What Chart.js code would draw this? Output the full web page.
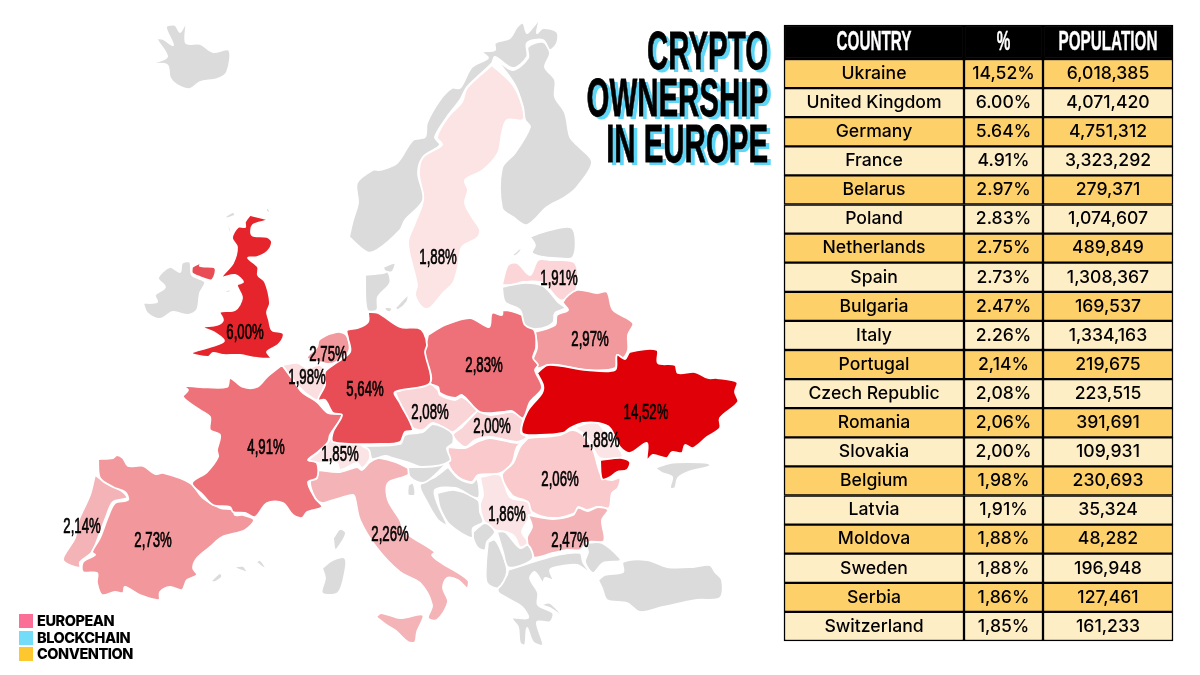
<!DOCTYPE html>
<html>
<head>
<meta charset="utf-8">
<title>Crypto ownership in Europe</title>
<script src="https://cdn.jsdelivr.net/npm/chart.js@4/dist/chart.umd.min.js"></script>
<style>
    html, body { margin: 0; padding: 0; background: #fff; }
    #page { position: relative; width: 1200px; height: 675px; overflow: hidden; }
    canvas { position: absolute; }
    #title {
        position: absolute; right: 432px; top: 27px; text-align: right;
        font: 700 54px/46.5px "Liberation Sans", sans-serif; color: #000;
        -webkit-text-stroke: 0.8px #000;
        text-shadow: 7px 3px 0 #5ed6f8;
        transform: scaleX(0.545); transform-origin: right top; white-space: nowrap;
    }
    #brand { position: absolute; left: 19px; top: 613px; }
    #brand div { position: relative; height: 16.5px; padding-left: 18px; font: 800 14.5px/16px Inter, sans-serif; letter-spacing: -0.45px; color: #000; }
    #brand i { position: absolute; left: 0; top: 1px; width: 14px; height: 14px; }
</style>
</head>
<body>
<div id="page">
    <canvas id="map" width="1200" height="675" style="left:0;top:0"></canvas>
    <canvas id="tableHead" width="393" height="38" style="left:782px;top:23px"></canvas>
    <canvas id="tableBody" width="393" height="586" style="left:782px;top:57px"></canvas>
    <div id="title">CRYPTO<br>OWNERSHIP<br>IN EUROPE</div>
    <div id="brand"></div>
</div>
<script>
// Table
const headers = ['COUNTRY', '%', 'POPULATION'];
const countries = ['Ukraine', 'United Kingdom', 'Germany', 'France', 'Belarus', 'Poland', 'Netherlands', 'Spain', 'Bulgaria', 'Italy', 'Portugal', 'Czech Republic', 'Romania', 'Slovakia', 'Belgium', 'Latvia', 'Moldova', 'Sweden', 'Serbia', 'Switzerland'];
const percents = ['14,52%', '6.00%', '5.64%', '4.91%', '2.97%', '2.83%', '2.75%', '2.73%', '2.47%', '2.26%', '2,14%', '2,08%', '2,06%', '2,00%', '1,98%', '1,91%', '1,88%', '1,88%', '1,86%', '1,85%'];
const populations = ['6,018,385', '4,071,420', '4,751,312', '3,323,292', '279,371', '1,074,607', '489,849', '1,308,367', '169,537', '1,334,163', '219,675', '223,515', '391,691', '109,931', '230,693', '35,324', '48,282', '196,948', '127,461', '161,233'];
const columnWidths = [180, 79, 130];

// Map labels
const mapLabels = ['6,00%', '2,75%', '1,98%', '5,64%', '4,91%', '2,14%', '2,73%', '1,85%', '2,26%', '2,83%', '2,08%', '2,00%', '14,52%', '1,88%', '2,06%', '1,86%', '2,47%', '1,88%', '1,91%', '2,97%'];
const mapLabelX = [245, 328, 307, 365, 266, 82, 153, 340, 390, 484, 430, 492, 646, 601, 560, 507, 570, 438, 559, 590];
const mapLabelY = [333, 355, 378, 390, 448, 527, 541, 455, 535, 366, 413, 427, 413, 441, 480, 515, 541, 258, 279, 340];

// Outlines, x,y pairs in map units
const ukraine = [537,373, 548,365, 587,370, 615,370, 617,355, 625,359, 630,352, 657,350, 658,363, 675,365, 678,373, 695,372, 708,378, 717,378, 737,382, 735,392, 738,402, 720,418, 720,428, 707,437, 693,448, 685,445, 682,453, 672,452, 667,458, 653,455, 647,460, 647,443, 630,453, 620,447, 610,428, 598,423, 583,423, 570,428, 563,433, 540,435, 522,433, 527,412, 542,393, 543,385];
const odessa = [600,460, 622,458, 630,462, 627,470, 617,472, 610,477, 602,479];
const greatBritain = [250,215, 267,220, 253,225, 252,235, 267,237, 272,242, 267,252, 257,257, 248,258, 258,267, 258,275, 265,282, 270,303, 267,312, 269,320, 272,330, 283,333, 283,338, 278,345, 267,352, 271,358, 257,358, 240,355, 223,355, 213,353, 208,357, 192,353, 210,347, 224,341, 215,333, 203,327, 217,325, 223,320, 220,312, 235,310, 242,298, 237,285, 243,282, 235,275, 222,277, 233,263, 237,247, 232,238, 238,227, 245,227, 245,222];
const northernIreland = [192,267, 202,262, 200,266, 215,268, 212,280, 200,277, 192,273];
const germany = [368,312, 378,313, 400,327, 418,328, 424,333, 427,345, 425,352, 430,383, 395,392, 400,403, 413,430, 405,432, 400,442, 380,444, 333,442, 333,432, 342,415, 333,413, 325,400, 318,400, 325,385, 325,372, 333,365, 350,352, 348,338, 347,330, 358,328, 368,322];
const france = [282,365, 293,380, 302,392, 317,402, 328,413, 342,415, 330,435, 328,442, 318,452, 308,460, 317,463, 317,478, 308,482, 315,498, 322,507, 307,512, 302,518, 293,515, 283,503, 267,503, 255,517, 245,513, 233,512, 230,507, 213,505, 203,495, 192,483, 207,472, 218,457, 217,450, 220,435, 210,430, 210,417, 200,410, 183,397, 188,390, 183,386, 200,387, 227,387, 230,378, 243,387, 257,387, 267,377];
const belarus = [535,332, 555,325, 557,315, 568,310, 563,302, 577,290, 597,293, 607,292, 613,310, 633,323, 628,335, 628,350, 623,358, 617,355, 615,368, 587,370, 557,365, 548,365, 538,368, 533,360, 537,348];
const poland = [428,335, 425,352, 430,383, 438,387, 440,393, 455,398, 462,395, 480,412, 503,412, 512,411, 523,418, 530,402, 542,388, 535,370, 538,365, 533,358, 536,348, 535,332, 527,322, 522,315, 503,310, 502,315, 492,313, 489,327, 470,318, 445,325];
const netherlands = [329,334, 340,332, 347,336, 349,351, 336,362, 328,364, 320,362, 307,358, 317,347, 319,340];
const spain = [98,459, 113,458, 117,455, 123,458, 128,466, 143,466, 155,474, 163,473, 190,483, 203,498, 220,508, 233,510, 235,515, 243,515, 254,520, 245,530, 222,537, 210,547, 197,558, 193,568, 197,575, 187,580, 182,590, 170,587, 160,592, 159,600, 140,595, 125,587, 123,593, 115,592, 102,595, 97,583, 97,573, 83,572, 83,562, 95,555, 92,552, 100,538, 108,517, 115,503, 128,500, 125,492, 113,487, 100,478];
const bulgaria = [528,515, 553,519, 573,515, 578,508, 588,511, 598,507, 608,510, 602,520, 604,541, 588,542, 580,550, 567,550, 553,553, 533,557, 527,538, 532,527];
const italy = [317,470, 340,472, 357,467, 362,470, 370,462, 380,458, 408,468, 408,475, 388,483, 388,500, 400,520, 405,532, 435,552, 432,555, 440,562, 468,580, 467,588, 458,580, 447,578, 443,588, 448,602, 437,620, 428,618, 432,605, 420,583, 400,572, 377,548, 360,520, 355,498, 353,495, 333,500, 322,503, 315,498, 310,480];
const sicily = [376,617, 381,613, 400,618, 423,615, 417,632, 415,642, 408,642, 396,631, 385,624];
const portugal = [95,475, 107,483, 123,492, 127,498, 113,502, 106,517, 98,538, 92,552, 80,562, 80,568, 63,560, 75,538, 78,522, 90,495];
const czechia = [395,392, 430,384, 438,390, 440,395, 455,400, 462,397, 477,410, 473,415, 460,427, 452,432, 433,423, 423,430, 412,427, 402,408];
const romania = [528,438, 560,435, 572,430, 583,435, 593,450, 602,477, 612,480, 620,478, 618,488, 612,493, 609,508, 597,507, 587,510, 578,507, 575,513, 553,518, 532,512, 528,502, 512,495, 502,475, 513,463, 520,447];
const hungary = [448,447, 465,448, 477,442, 490,438, 517,443, 527,438, 517,447, 512,463, 500,473, 478,475, 472,482, 458,477, 448,463];
const slovakia = [477,411, 490,415, 503,413, 512,412, 523,420, 521,433, 527,437, 517,442, 490,437, 475,440, 465,447, 453,435, 462,427];
const belgium = [282,365, 298,363, 307,368, 320,365, 325,372, 325,385, 318,400, 308,395, 302,390, 293,380];
const latvia = [502,285, 508,265, 517,263, 530,275, 538,260, 550,260, 575,263, 575,293, 560,300, 543,283, 523,282, 513,285];
const moldova = [575,428, 587,423, 598,423, 607,435, 620,450, 622,457, 600,458, 593,448, 585,435];
const sweden = [492,65, 513,85, 523,108, 523,120, 507,120, 502,133, 498,153, 483,170, 465,180, 468,190, 465,203, 472,217, 480,230, 477,238, 462,247, 458,267, 453,283, 443,293, 430,308, 423,308, 415,295, 417,285, 408,243, 415,223, 423,200, 419,173, 423,157, 442,145, 437,137, 448,117, 462,102, 467,88];
const serbia = [480,477, 500,475, 510,497, 528,502, 532,512, 527,522, 522,532, 528,543, 520,547, 515,537, 507,532, 495,530, 485,523, 480,505, 483,495];
const switzerland = [328,442, 332,437, 350,443, 367,447, 370,458, 362,468, 357,463, 340,470, 337,463, 318,463, 308,461, 318,452];

// Countries without data
const iceland = [148,64, 167,57, 157,39, 163,39, 173,45, 166,27, 175,25, 180,32, 186,23, 186,43, 200,44, 213,52, 229,50, 227,72, 217,79, 200,82, 190,89, 177,85, 170,78, 167,65];
const ireland = [143,303, 157,302, 155,295, 165,287, 158,278, 170,267, 180,272, 182,263, 190,262, 192,275, 205,282, 200,293, 197,310, 188,315, 173,312, 160,319, 147,313];
const norway = [349,237, 353,220, 358,203, 357,183, 373,170, 380,170, 397,163, 413,140, 425,137, 427,123, 440,100, 452,88, 460,88, 472,67, 488,58, 482,52, 495,50, 495,43, 510,38, 517,27, 523,23, 527,33, 533,27, 539,20, 537,33, 543,28, 557,32, 557,43, 550,50, 543,40, 527,43, 527,57, 513,68, 495,57, 492,63, 467,87, 460,100, 447,117, 435,137, 440,145, 423,157, 418,173, 423,200, 405,220, 400,230, 377,250, 367,252];
const finland = [497,60, 513,70, 528,58, 528,47, 543,42, 550,53, 545,67, 555,80, 555,97, 565,113, 570,137, 577,145, 592,162, 577,187, 565,197, 547,207, 527,225, 513,217, 502,208, 502,168, 515,153, 530,127, 525,120, 523,107, 515,85];
const estonia = [530,237, 543,232, 572,228, 573,257, 553,258, 543,257, 532,253, 535,245];
const saaremaa = [512,255, 522,247, 520,252, 515,256];
const lithuania = [502,287, 523,283, 543,286, 558,302, 565,308, 555,313, 553,323, 537,329, 525,325, 520,310, 505,302];
const denmark = [365,275, 383,273, 388,272, 390,283, 378,297, 377,310, 367,310];
const denmarkNorth = [383,267, 395,263, 392,272, 385,271];
const funen = [385,307, 392,308, 390,312, 385,310];
const zealand = [395,308, 408,295, 407,302, 398,310];
const corsica = [333,538, 340,529, 346,533, 340,545, 335,550];
const sardinia = [322,568, 333,560, 345,558, 345,572, 338,593, 322,593, 325,578];
const mallorca = [233,567, 243,566, 247,572, 240,570];
const ibiza = [210,582, 220,573, 222,577, 215,582];
const menorca = [256,562, 260,560, 266,568, 262,567];
const austria = [362,446, 400,444, 405,435, 423,432, 433,424, 452,433, 453,443, 447,448, 450,461, 423,467, 407,462, 393,458, 385,456, 372,459, 369,450];
const slovenia = [408,467, 423,467, 445,463, 435,475, 423,483, 410,477];
const croatia = [448,467, 458,478, 472,483, 477,478, 478,498, 455,488, 435,490, 438,505, 447,525, 438,520, 427,502, 420,485, 435,477];
const istria = [408,485, 413,483, 415,495, 408,495];
const bosnia = [437,493, 455,490, 478,500, 480,512, 483,522, 473,528, 472,538, 450,525, 440,508];
const montenegro = [473,532, 485,523, 495,532, 487,542, 485,550, 478,548, 473,538];
const macedonia = [497,532, 505,532, 520,548, 528,545, 533,558, 522,565, 508,567, 503,552];
const albania = [488,542, 495,540, 502,553, 507,572, 498,588, 487,583, 486,565];
const greece = [508,570, 533,562, 557,555, 580,553, 583,562, 590,573, 577,565, 557,567, 550,570, 553,580, 545,578, 543,583, 535,572, 530,578, 538,593, 538,605, 553,613, 550,622, 537,622, 543,645, 533,642, 527,628, 525,645, 520,643, 518,627, 512,618, 528,618, 522,607, 507,598, 498,592, 500,583, 507,575];
const evia = [540,605, 550,603, 563,617, 550,608];
const turkeyEurope = [585,543, 602,543, 620,558, 620,561, 603,563, 593,573, 585,562, 588,552];
const turkey = [598,580, 605,575, 623,572, 623,562, 647,560, 667,567, 693,567, 710,565, 715,572, 722,580, 720,598, 697,600, 663,607, 640,612, 627,603, 607,600, 602,588];
const crimea = [655,468, 670,463, 687,462, 708,463, 710,466, 688,472, 678,478, 675,488, 670,488, 672,477, 662,473];
const orkney = [223,218, 233,212, 235,215, 228,218];
const shetland = [266,209, 268,208, 270,212, 267,212];
const hebrides = [227,224, 229,225, 231,232, 229,232];
const isleOfMan = [224,292, 230,289, 230,292, 226,293];

const greyLands = [iceland, ireland, norway, finland, estonia, saaremaa, lithuania, denmark, denmarkNorth, funen, zealand, corsica, sardinia, mallorca, ibiza, menorca, austria, slovenia, croatia, istria, bosnia, montenegro, macedonia, albania, greece, evia, turkeyEurope, turkey, crimea, orkney, shetland, hebrides, isleOfMan];
const dataLands = [
    [ukraine, '#e00007'], [odessa, '#e00007'], [greatBritain, '#e6242b'], [northernIreland, '#e84c55'],
    [germany, '#e84d56'], [france, '#ee7279'], [poland, '#ee7078'], [belarus, '#f2999d'],
    [netherlands, '#f2999d'], [spain, '#f2989d'], [bulgaria, '#f4b4b7'], [italy, '#f4b3b6'],
    [sicily, '#f4b3b6'], [portugal, '#f4b4b7'], [czechia, '#fad5d7'], [romania, '#f9c9cc'],
    [hungary, '#f9c9cc'], [slovakia, '#fad5d7'], [belgium, '#fbdfe0'], [latvia, '#fbd5d7'],
    [moldova, '#fbe4e5'], [sweden, '#fce4e5'], [serbia, '#fbe4e5'], [switzerland, '#fbe4e5']
];

const brandNames = ['EUROPEAN', 'BLOCKCHAIN', 'CONVENTION'];
const brandColors = ['#fb6e96', '#72dcf9', '#fdc72f'];

const NARROW_FONT = '"Liberation Sans", sans-serif';

const toPoints = (flat) => {
    const points = [];
    for (let i = 0; i < flat.length; i += 2) points.push({ x: flat[i], y: flat[i + 1] });
    points.push({ x: flat[0], y: flat[1] });
    return points;
};

const landDataset = (outline, color) => ({
    data: toPoints(outline),
    showLine: true,
    fill: 'shape',
    backgroundColor: color,
    borderColor: '#fff',
    borderWidth: 1.8,
    borderJoinStyle: 'round',
    tension: 0.32,
    pointRadius: 0
});

// Squeezed text, the reference uses a condensed poster face
function drawNarrow(ctx, text, x, y, size, squeeze, color, weight = 700, stroke = 0) {
    ctx.save();
    ctx.translate(x, y);
    ctx.scale(squeeze, 1);
    ctx.font = `${weight} ${size}px ${NARROW_FONT}`;
    ctx.fillStyle = color;
    ctx.strokeStyle = color;
    ctx.lineWidth = stroke;
    ctx.textAlign = 'center';
    ctx.textBaseline = 'middle';
    if (stroke) ctx.strokeText(text, 0, 0);
    ctx.fillText(text, 0, 0);
    ctx.restore();
}

const mapLabelPlugin = {
    id: 'mapLabelPlugin',
    afterDatasetsDraw(chart) {
        const meta = chart.getDatasetMeta(chart.data.datasets.length - 1);
        meta.data.forEach((point, i) => drawNarrow(chart.ctx, mapLabels[i], point.x, point.y, 22, 0.6, '#000', 400, 0.7));
    }
};

new Chart(document.getElementById('map'), {
    type: 'scatter',
    data: {
        datasets: [
            ...greyLands.map((outline) => landDataset(outline, '#dcdbdb')),
            ...dataLands.map(([outline, color]) => landDataset(outline, color)),
            { data: mapLabelX.map((x, i) => ({ x, y: mapLabelY[i] })), pointRadius: 0 }
        ]
    },
    options: {
        responsive: false,
        animation: false,
        layout: { padding: 0 },
        plugins: { legend: { display: false }, tooltip: { enabled: false } },
        scales: {
            x: { type: 'linear', min: 0, max: 1200, display: false },
            y: { type: 'linear', min: 0, max: 675, reverse: true, display: false }
        }
    },
    plugins: [mapLabelPlugin]
});

// One stacked horizontal bar per table row, one stack segment per column
function tableChart(canvasId, rows, rowColor, drawCell) {
    const columns = columnWidths.map((width) => rows.map(() => width));
    new Chart(document.getElementById(canvasId), {
        type: 'bar',
        data: {
            labels: rows.map((row) => row[0]),
            datasets: columns.map((widths) => ({
                data: widths,
                backgroundColor: rows.map((row, i) => rowColor(i)),
                borderColor: '#000',
                borderWidth: 1.5,
                borderSkipped: false,
                barPercentage: 1,
                categoryPercentage: 1,
                clip: false
            }))
        },
        options: {
            indexAxis: 'y',
            responsive: false,
            animation: false,
            layout: { padding: 2 },
            plugins: { legend: { display: false }, tooltip: { enabled: false } },
            scales: {
                x: { stacked: true, min: 0, max: 389, display: false },
                y: { stacked: true, display: false }
            }
        },
        plugins: [{
            id: 'cellText',
            afterDatasetsDraw(chart) {
                chart.data.datasets.forEach((dataset, col) => {
                    chart.getDatasetMeta(col).data.forEach((bar, row) => {
                        const centre = (bar.x + bar.base) / 2;
                        drawCell(chart.ctx, rows[row][col], centre, bar.y);
                    });
                });
            }
        }]
    });
}

tableChart('tableHead', [headers], () => '#000', (ctx, text, x, y) => {
    drawNarrow(ctx, text, x, y + 1, 27, 0.565, '#fff', 700, 0.4);
});

tableChart('tableBody', countries.map((name, i) => [name, percents[i], populations[i]]),
    (i) => (i % 2 ? '#feeec6' : '#fdd06a'),
    (ctx, text, x, y) => {
        ctx.save();
        ctx.font = '500 17.6px Inter, sans-serif';
        ctx.fillStyle = '#000';
        ctx.textAlign = 'center';
        ctx.textBaseline = 'middle';
        ctx.fillText(text, x, y);
        ctx.restore();
    });

document.getElementById('brand').innerHTML = brandNames
    .map((name, i) => `<div><i style="background:${brandColors[i]}"></i>${name}</div>`)
    .join('');
</script>
</body>
</html>
